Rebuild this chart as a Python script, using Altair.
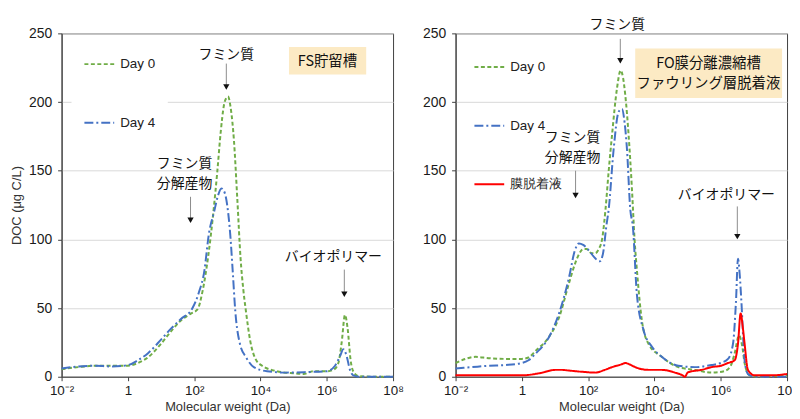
import altair as alt
import pandas as pd

# ---------------- data (x given as log10 of molecular weight in Da) ----------------
series_names_left = ["Day 0", "Day 4"]
series_names_right = ["Day 0", "Day 4", "膜脱着液"]
series_colors = ["#70AD47", "#4472C4", "#FF0000"]
series_dashes = [[4, 2.5], [9, 3, 2, 3], [1, 0]]

# Left panel: FS貯留槽
L_day0_logx = [-2, -1.5, -1, -0.5, 0, 0.3, 0.6, 1.0, 1.3, 1.6, 1.9, 2.1, 2.25, 2.43, 2.58,
               2.7, 2.8, 2.9, 2.97, 3.02, 3.1, 3.2, 3.3, 3.4, 3.48, 3.56, 3.7, 3.85, 4.05,
               4.5, 5.0, 5.3, 5.6, 6.0, 6.2, 6.35, 6.45, 6.55, 6.63, 6.72, 6.82, 6.95, 7.5, 8]
L_day0_doc = [5.5, 7, 8, 8, 8, 10, 14, 24, 33, 41, 46, 49, 62, 89, 120,
              150, 178, 198, 203, 204, 196, 172, 130, 86, 64, 48, 25, 13, 8,
              4, 2.5, 2, 4, 4, 5, 10, 25, 45, 35, 12, 3, 0.5, 0, 0]

L_day4_logx = [-2, -1.5, -1, -0.5, 0, 0.3, 0.6, 1.0, 1.3, 1.6, 1.95, 2.15, 2.3, 2.45, 2.6,
               2.72, 2.82, 2.88, 2.97, 3.09, 3.16, 3.24, 3.38, 3.57, 3.8, 4.2, 4.8, 5.5,
               6.0, 6.25, 6.4, 6.5, 6.6, 6.7, 6.8, 7.0, 8]
L_day4_doc = [6, 7.5, 8, 7.5, 8.5, 12, 17, 27, 35, 42, 50, 62, 76, 105, 120,
              132, 137, 136, 129, 103, 78, 48, 24, 14, 7, 4, 3, 3.5,
              4, 8, 15, 20, 15, 5, 1, 0, 0]

# Right panel: FO膜分離濃縮槽 ファウリング層脱着液
R_day0_logx = [-2, -1.7, -1.4, -1, -0.5, 0, 0.2, 0.42, 0.82, 1.12, 1.42, 1.6, 1.72, 1.85,
               1.95, 2.1, 2.22, 2.32, 2.42, 2.52, 2.62, 2.72, 2.87, 2.98, 3.05, 3.12, 3.22,
               3.32, 3.4, 3.48, 3.62, 3.82, 4.22, 4.72, 5.22, 5.72, 6.1, 6.3, 6.42, 6.55,
               6.65, 6.72, 6.87, 7.2, 7.6, 8]
R_day0_doc = [10, 13, 14.5, 13.5, 13, 13, 14, 19, 29, 43, 68, 82, 89, 93,
              93, 90, 90, 93, 100, 121, 150, 176, 210, 223, 218, 205, 176,
              137, 100, 75, 41, 24, 14.5, 7, 5, 3, 4, 8, 17, 30,
              22, 10, 1, 0, 0.5, 1]

R_day4_logx = [-2, -1.5, -1, -0.5, 0, 0.2, 0.42, 0.82, 1.12, 1.42, 1.6, 1.72, 1.85, 2.02,
               2.22, 2.35, 2.45, 2.55, 2.62, 2.77, 2.92, 3.02, 3.1, 3.17, 3.27, 3.35, 3.47,
               3.67, 3.92, 4.22, 4.72, 5.22, 5.72, 6.0, 6.22, 6.37, 6.46, 6.52, 6.57, 6.62,
               6.72, 6.82, 7.0, 8]
R_day4_doc = [6, 7, 8, 8.5, 10, 12, 17, 29, 46, 72, 92, 97, 96, 92,
              86, 84, 90, 110, 122, 166, 193, 195, 185, 166, 122, 109, 60,
              34, 22, 14.5, 8, 7, 8.5, 10, 13, 24, 55, 86, 75, 56,
              12, 2, 0, 0]

R_elu_logx = [-2, -1, 0, 0.52, 1.02, 1.2, 1.42, 1.82, 2.22, 2.5, 2.72, 3.0, 3.12, 3.25,
              3.42, 3.82, 4.22, 4.62, 4.85, 4.92, 5.0, 5.07, 5.42, 5.72, 6.0, 6.22, 6.42,
              6.52, 6.6, 6.67, 6.72, 6.82, 7.02, 7.52, 8]
R_elu_doc = [1, 1, 1, 2.5, 5, 5, 4.5, 3.6, 3, 5, 7, 9, 10, 9,
             7, 5, 5, 3, 1, 0, 3, 3.6, 5, 7, 8, 10, 12,
             24, 46, 35, 24, 5, 1, 1, 2]

tick_values = [0.01, 1, 100, 1e4, 1e6, 1e8]
tick_labels = ["10⁻²", "1", "10²", "10⁴", "10⁶", "10⁸"]

# annotations: (text, log10 x, y)
L_texts = [("フミン質", 2.97, 234), ("フミン質", 1.71, 155), ("分解産物", 1.71, 140),
           ("バイオポリマー", 6.2, 87)]
L_arrows = [(2.97, 228, 211), (1.89, 131, 114), (6.53, 78, 60)]  # x, y start, y head
L_box = (4.86, 7.19, 220, 240)
L_box_text = [("FS貯留槽", 6.02, 229)]

R_texts = [("フミン質", 2.88, 256), ("フミン質", 1.53, 174), ("分解産物", 1.53, 159),
           ("バイオポリマー", 6.17, 132)]
R_arrows = [(2.97, 246, 230), (1.62, 150, 132), (6.5, 124, 102)]
R_box = (3.42, 7.85, 203, 239)
R_box_text = [("FO膜分離濃縮槽", 5.63, 228), ("ファウリング層脱着液", 5.63, 213)]

JP = "Noto Sans CJK JP"
LAT = "Liberation Sans"

label_expr = " : ".join(
    [f"datum.value < {v * 3} ? '{t}'" for v, t in zip(tick_values[:-1], tick_labels[:-1])]
) + f" : '{tick_labels[-1]}'"


def series_df(items):
    rows = []
    for name, xs, ys in items:
        for lx, y in zip(xs, ys):
            rows.append({"series": name, "x": 10 ** lx, "doc": y})
    return pd.DataFrame(rows)


def panel(items, names, texts, arrows, box, box_text, show_y_title, legend_kw):
    xscale = alt.Scale(type="log", domain=[0.01, 1e8], nice=False)
    yscale = alt.Scale(domain=[0, 250], nice=False)
    xaxis = alt.Axis(values=tick_values, labelExpr=label_expr, title="Molecular weight (Da)",
                     grid=False, tickSize=4, labelPadding=3, titlePadding=4, labelFlush=False,
                     labelOverlap=False, labelFontSize=13.5)
    yaxis = alt.Axis(values=[0, 50, 100, 150, 200, 250], title="DOC (μg C/L)" if show_y_title else None,
                     grid=True, tickSize=4, labelPadding=6, titlePadding=5, labelFontSize=14)
    legend = alt.Legend(orient="none", title=None,
                        symbolType="stroke", symbolSize=900, symbolStrokeWidth=2,
                        labelFont=LAT, labelFontSize=13.5, labelColor="#222",
                        rowPadding=36, labelOffset=5, **legend_kw)
    ncol = len(names)
    df = series_df(items)
    lines = alt.Chart(df).mark_line(strokeWidth=2, interpolate="monotone").encode(
        x=alt.X("x:Q", scale=xscale, axis=xaxis),
        y=alt.Y("doc:Q", scale=yscale, axis=yaxis),
        color=alt.Color("series:N", scale=alt.Scale(domain=names, range=series_colors[:ncol]),
                        legend=legend),
        strokeDash=alt.StrokeDash("series:N", scale=alt.Scale(domain=names, range=series_dashes[:ncol]),
                                  legend=legend),
    )
    bx = pd.DataFrame([{"x": 10 ** box[0], "x2": 10 ** box[1], "y": box[2], "y2": box[3]}])
    box_layer = alt.Chart(bx).mark_rect(color="#FCEAC4").encode(
        x=alt.X("x:Q", scale=xscale), x2="x2:Q", y=alt.Y("y:Q", scale=yscale), y2="y2:Q")
    bt = pd.DataFrame([{"t": t, "x": 10 ** lx, "y": y} for t, lx, y in box_text])
    box_txt = alt.Chart(bt).mark_text(font=JP, fontSize=14.5, color="#111").encode(
        x=alt.X("x:Q", scale=xscale), y=alt.Y("y:Q", scale=yscale), text="t:N")
    tx = pd.DataFrame([{"t": t, "x": 10 ** lx, "y": y} for t, lx, y in texts])
    txt = alt.Chart(tx).mark_text(font=JP, fontSize=14, color="#111").encode(
        x=alt.X("x:Q", scale=xscale), y=alt.Y("y:Q", scale=yscale), text="t:N")
    ar = pd.DataFrame([{"x": 10 ** a[0], "y": a[1], "y2": a[2]} for a in arrows])
    shafts = alt.Chart(ar).mark_rule(color="#8C8C8C", strokeWidth=1).encode(
        x=alt.X("x:Q", scale=xscale), y=alt.Y("y:Q", scale=yscale), y2="y2:Q")
    heads = alt.Chart(ar).mark_point(shape="triangle-down", filled=True, color="#111",
                                     size=40, opacity=1).encode(
        x=alt.X("x:Q", scale=xscale), y=alt.Y("y2:Q", scale=yscale))
    return alt.layer(box_layer, lines, shafts, heads, txt, box_txt).properties(width=334, height=346)


left = panel([("Day 0", L_day0_logx, L_day0_doc), ("Day 4", L_day4_logx, L_day4_doc)],
             series_names_left, L_texts, L_arrows, L_box, L_box_text, True,
             dict(legendX=10, legendY=3, padding=12, fillColor="white"))
right = panel([("Day 0", R_day0_logx, R_day0_doc), ("Day 4", R_day4_logx, R_day4_doc),
               ("膜脱着液", R_elu_logx, R_elu_doc)],
              series_names_right, R_texts, R_arrows, R_box, R_box_text, False,
              dict(legendX=10, legendY=10, padding=8))

chart = alt.hconcat(left, right, spacing=63, bounds="flush").resolve_scale(
    color="independent", strokeDash="independent"
).resolve_legend(color="independent", strokeDash="independent").configure_view(
    stroke="#404040", strokeWidth=1
).configure_axis(
    labelFont=LAT, labelColor="#1a1a1a", titleFont=LAT, titleFontSize=13,
    titleFontWeight="normal", titleColor="#333", domainColor="#404040", tickColor="#404040",
    gridColor="#D9D9D9"
).properties(padding={"left": 2, "top": 8, "right": -6, "bottom": 0}, background="white")

chart.save("out.html", embed_options={"renderer": "svg", "actions": False})
